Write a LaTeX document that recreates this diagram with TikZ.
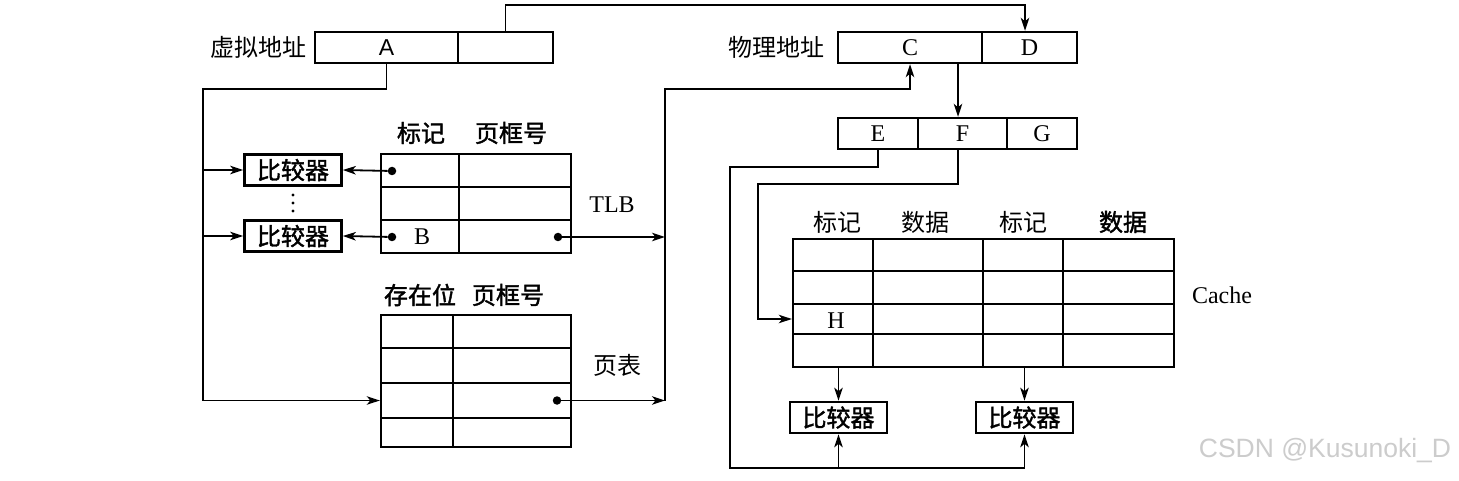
\documentclass[tikz,border=0pt]{standalone}
\usepackage{fontspec}
\setmainfont{Liberation Serif}
\newfontfamily\cjk[AutoFakeBold=1.6]{Noto Sans CJK SC}
\newfontfamily\lsans{Liberation Sans}
\usetikzlibrary{arrows.meta,calc}
\begin{document}
\begin{tikzpicture}[x=1pt,y=-1pt,
  cell/.style={draw, line width=2.4pt, inner sep=0pt},
  ln/.style={line width=1.8pt},
  arr/.style={ln, -{Stealth[length=13pt,width=8.5pt,inset=3.5pt]}},
  zh/.style={font=\cjk\fontsize{24}{24}\selectfont, inner sep=0pt},
  zhb/.style={font=\cjk\bfseries\fontsize{24}{24}\selectfont, inner sep=0pt},
  lat/.style={font=\fontsize{24}{24}\selectfont, inner sep=0pt},
  dotn/.style={circle, fill, inner sep=0pt, minimum size=8.5pt},
  cmp/.style={draw, line width=2.6pt, inner sep=0pt, minimum width=97pt, minimum height=31pt, font=\cjk\bfseries\fontsize{24}{24}\selectfont}
]
\fill[white] (0,0) rectangle (1459,481);
\useasboundingbox (0,0) rectangle (1459,481);

% virtual address
\node[zh] (valab) at (258,47) {虚拟地址};
\node[cell, minimum width=143pt, minimum height=31pt, font=\lsans\fontsize{23}{23}\selectfont] (va1) at (386.5,47.5) {A};
\node[cell, minimum width=95pt, minimum height=31pt] (va2) at (505.5,47.5) {};

% physical address
\node[zh] (palab) at (776,47) {物理地址};
\node[cell, minimum width=144pt, minimum height=31pt, lat] (pa1) at (910,47.5) {C};
\node[cell, minimum width=95pt, minimum height=31pt, lat] (pa2) at (1029.5,47.5) {D};

% E F G
\node[cell, minimum width=80pt, minimum height=31pt, lat] (e) at (878,133.5) {E};
\node[cell, minimum width=89pt, minimum height=31pt, lat] (f) at (962.5,133.5) {F};
\node[cell, minimum width=70pt, minimum height=31pt, lat] (g) at (1042,133.5) {G};

% TLB
\node[zhb] (th1) at (421,133) {标记};
\node[zhb] (th2) at (511,133) {页框号};
\foreach \r/\ya/\yb in {1/154/187,2/187/220,3/220/253}{
  \foreach \c/\xa/\xb in {1/381/459,2/459/571}{
    \node[cell, minimum width=\xb pt-\xa pt, minimum height=\yb pt-\ya pt] (t\r\c) at ({(\xa+\xb)/2},{(\ya+\yb)/2}) {};
  }}
\node[lat] (blab) at (422,236.5) {B};
\node[lat] (tlblab) at (612,205) {TLB};
\node[dotn] (d1) at (392,171) {};
\node[dotn] (d2) at (392,237) {};
\node[dotn] (d3) at (558,237) {};

% TLB comparators
\node[cmp] (cmpA) at (293,170) {比较器};
\node[cmp] (cmpB) at (293,236) {比较器};
\foreach \yy in {195,203,211} \fill (293,\yy) circle (1.7pt);

% page table
\node[zhb] (ph1) at (420,295) {存在位};
\node[zhb] (ph2) at (508,295) {页框号};
\foreach \r/\ya/\yb in {1/315/348,2/348/383,3/383/418,4/418/447}{
  \foreach \c/\xa/\xb in {1/381/453,2/453/571}{
    \node[cell, minimum width=\xb pt-\xa pt, minimum height=\yb pt-\ya pt] (p\r\c) at ({(\xa+\xb)/2},{(\ya+\yb)/2}) {};
  }}
\node[zh] (ptlab) at (617,365) {页表};
\node[dotn] (pd) at (557,400.5) {};

% cache
\node[zh] (ch1) at (837,222) {标记};
\node[zh] (ch2) at (925,222) {数据};
\node[zh] (ch3) at (1023,222) {标记};
\node[zhb] (ch4) at (1123,222) {数据};
\foreach \r/\ya/\yb in {1/239/271,2/271/304,3/304/334,4/334/367}{
  \foreach \c/\xa/\xb in {1/793/873,2/873/983,3/983/1063,4/1063/1174}{
    \node[cell, minimum width=\xb pt-\xa pt, minimum height=\yb pt-\ya pt] (c\r\c) at ({(\xa+\xb)/2},{(\ya+\yb)/2}) {};
  }}
\node[lat] (hlab) at (836,321) {H};
\node[lat] (cachelab) at (1222,295) {Cache};

% cache comparators
\node[cmp] (cmpC) at (838.5,417.5) {比较器};
\node[cmp] (cmpD) at (1024.5,417.5) {比较器};

% coordinates
\coordinate (t1) at (1025,5);
\coordinate (aL) at (203,89);
\coordinate (aB) at (203,400.5);
\coordinate (rB) at (665,400.5);
\coordinate (rT) at (665,89);
\coordinate (eT) at (730,167);
\coordinate (eB) at (730,468);
\coordinate (fT) at (758,184);

% connectors
\draw[arr] (va2.north) |- (t1) -- ([xshift=-4.5pt]pa2.north);
\draw[ln] (va1.south) |- (aL) -- (aB);
\draw[arr] (aB) -- (p31.west);
\draw[arr] (aL |- cmpA) -- (cmpA.west);
\draw[arr] (aL |- cmpB) -- (cmpB.west);
\draw[arr] (d1) -- (cmpA.east);
\draw[arr] (d2) -- (cmpB.east);
\draw[arr] (d3) -- (rB |- d3);
\draw[arr] (pd) -- (rB);
\draw[arr] (rB) -- (rT) -| (pa1.south);
\draw[arr] ([xshift=-4.5pt]f.north |- pa1.south) -- ([xshift=-4.5pt]f.north);
\draw[arr] (e.south) |- (eT) -- (eB) -| (cmpD.south);
\draw[arr] (cmpC.south |- eB) -- (cmpC.south);
\draw[arr] ([xshift=-4.5pt]f.south) |- (fT) |- (c31.west);
\draw[arr] (cmpC.north |- c41.south) -- (cmpC.north);
\draw[arr] (cmpD.north |- c43.south) -- (cmpD.north);

% watermark
\node[font=\lsans\fontsize{26.5}{26.5}\selectfont, text=gray!40, inner sep=0pt] (wm) at (1325,451) {CSDN @Kusunoki\_D};
\end{tikzpicture}
\end{document}
